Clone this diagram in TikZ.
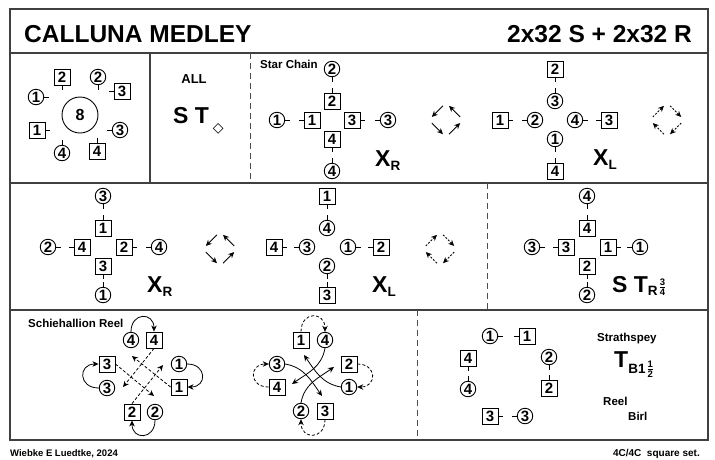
\documentclass[tikz,border=0pt]{standalone}
\usepackage{fontspec}
\setmainfont{Liberation Sans}
\newfontfamily\symbolfont{DejaVu Sans}
\usetikzlibrary{arrows.meta, calc, positioning}

\newcommand{\bigsize}{\fontsize{23}{23}\selectfont}
\newcommand{\subsize}{\fontsize{13.5}{13.5}\selectfont}
\newcommand{\fracsize}{\fontsize{9.5}{9.5}\selectfont}
\newcommand{\lowered}[2][-4.5pt]{\raisebox{#1}{\subsize #2}}
\newcommand{\smallfrac}[2]{\kern1pt$\frac{\mbox{\fracsize #1}}{\mbox{\fracsize #2}}$}

% dancer: style, name, position, number, side of the facing tick
\newcommand{\dancer}[5]{%
  \node[#1] (#2) at (#3) {#4};
  \draw[facing] (#2.#5) -- ($(#2.#5)!-5pt!(#2.center)$);}

% hands across: four short arrows round a centre
\newcommand{\handsright}[1]{%
  \foreach \a in {45,135,225,315}
    \draw[spin] ($(#1)+(\a-33:14.5)$) -- ($(#1)+(\a+33:14.5)$);}
\newcommand{\handsleft}[1]{%
  \foreach \a in {45,135,225,315}
    \draw[spin, spindash] ($(#1)+(\a+33:14.5)$) -- ($(#1)+(\a-33:14.5)$);}

\begin{document}
\begin{tikzpicture}[x=1pt, y=1pt,
        % --- Style Definitions ---
        frame/.style={draw=black!75, line width=1.2pt},
        divider/.style={draw=black!70, line width=0.9pt, dash pattern=on 6pt off 4pt},
        man/.style={rectangle, draw, line width=0.9pt, minimum size=16pt, inner sep=0pt, font=\bfseries\fontsize{15}{15}\selectfont},
        lady/.style={circle, draw, line width=0.9pt, minimum size=15.5pt, inner sep=0pt, font=\bfseries\fontsize{15}{15}\selectfont},
        facing/.style={line width=0.9pt},
        heading/.style={font=\bfseries\fontsize{24.5}{24.5}\selectfont, inner sep=0pt},
        note/.style={font=\bfseries\fontsize{11.5}{11.5}\selectfont, inner sep=0pt},
        figname/.style={font=\bfseries\bigsize, inner sep=0pt},
        spin/.style={line width=0.9pt, -{Stealth[length=6pt, width=5.5pt]}},
        spindash/.style={dash pattern=on 2pt off 1.5pt},
        arrow/.style={line width=0.8pt, -{Stealth[length=6pt, width=5.5pt]}},
        dasharrow/.style={arrow, dash pattern=on 3pt off 2pt}
    ]

        % --- Frame ---
        \useasboundingbox (0,0) rectangle (715,-459);
        \draw[frame] (10,-9) rectangle (708,-440);
        \draw[frame] (10,-53) -- (708,-53);
        \draw[frame] (10,-183) -- (708,-183);
        \draw[frame] (10,-310) -- (708,-310);
        \draw[frame] (150,-53) -- (150,-183);
        \draw[divider] (250,-53) -- (250,-183);
        \draw[divider] (487,-183) -- (487,-310);
        \draw[divider] (417,-310) -- (417,-440);

        % --- Title and footer ---
        \node[heading, anchor=base west] (name) at (24,-42) {CALLUNA MEDLEY};
        \node[heading, anchor=base east] (tempo) at (692,-42) {2x32 S + 2x32 R};
        \node[note, anchor=base west, font=\bfseries\fontsize{9.5}{9.5}\selectfont] (author) at (10,-456) {Wiebke E Luedtke, 2024};
        \node[note, anchor=base east, font=\bfseries\fontsize{10}{10}\selectfont] (setform) at (700,-456) {4C/4C\ \ square set.};

        % --- Bar 1: set, all turn ---
        \node[lady, minimum size=36pt, font=\bfseries\fontsize{16}{16}\selectfont] (eight) at (80,-115) {8};
        \dancer{man}{set_m2}{62,-77}{2}{south}
        \dancer{lady}{set_w2}{98,-77}{2}{south}
        \dancer{lady}{set_w1}{36,-97}{1}{east}
        \dancer{man}{set_m3}{122,-91}{3}{west}
        \dancer{man}{set_m1}{37,-130}{1}{east}
        \dancer{lady}{set_w3}{120,-130}{3}{west}
        \dancer{lady}{set_w4}{62,-153}{4}{north}
        \dancer{man}{set_m4}{97,-151}{4}{north}

        \node[note, anchor=base, font=\bfseries\fontsize{13}{13}\selectfont] (all) at (194,-83) {ALL};
        \node[figname, anchor=base west] (st_all) at (173,-123) {S T\hspace{4pt}\raisebox{-9pt}{\symbolfont\mdseries\fontsize{14}{14}\selectfont ◇}};

        % --- Star chain: right hands across ---
        \node[note, anchor=base west] (chain) at (260,-68) {Star Chain};
        \dancer{lady}{chain_w2}{332,-69}{2}{south}
        \dancer{man}{chain_m2}{332,-101}{2}{north}
        \dancer{lady}{chain_w1}{277,-120}{1}{east}
        \dancer{man}{chain_m1}{312,-120}{1}{west}
        \dancer{man}{chain_m3}{352,-120}{3}{east}
        \dancer{lady}{chain_w3}{388,-120}{3}{west}
        \dancer{man}{chain_m4}{332,-139}{4}{south}
        \dancer{lady}{chain_w4}{332,-171}{4}{north}
        \node[figname, anchor=base west] (xr_a) at (375,-166) {X\lowered{R}};
        \coordinate (rot_a) at (446,-120);
        \handsright{rot_a}

        % --- Left hands across ---
        \dancer{man}{xl_m2}{555,-69}{2}{south}
        \dancer{lady}{xl_w3}{555,-101}{3}{north}
        \dancer{man}{xl_m1}{500,-120}{1}{east}
        \dancer{lady}{xl_w2}{535,-120}{2}{west}
        \dancer{lady}{xl_w4}{575,-120}{4}{east}
        \dancer{man}{xl_m3}{609,-120}{3}{west}
        \dancer{lady}{xl_w1}{555,-139}{1}{south}
        \dancer{man}{xl_m4}{555,-171}{4}{north}
        \node[figname, anchor=base west] (xl_a) at (593,-165) {X\lowered{L}};
        \coordinate (rot_b) at (667,-120);
        \handsleft{rot_b}

        % --- Row 2 ---
        \dancer{lady}{xr2_w3}{103,-196}{3}{south}
        \dancer{man}{xr2_m1}{103,-228}{1}{north}
        \dancer{lady}{xr2_w2}{48,-247}{2}{east}
        \dancer{man}{xr2_m4}{82,-247}{4}{west}
        \dancer{man}{xr2_m2}{124,-247}{2}{east}
        \dancer{lady}{xr2_w4}{159,-247}{4}{west}
        \dancer{man}{xr2_m3}{103,-266}{3}{south}
        \dancer{lady}{xr2_w1}{103,-295}{1}{north}
        \node[figname, anchor=base west] (xr_b) at (147,-292) {X\lowered{R}};
        \coordinate (rot_c) at (220,-249);
        \handsright{rot_c}

        \dancer{man}{xl2_m1}{327,-196}{1}{south}
        \dancer{lady}{xl2_w4}{327,-228}{4}{north}
        \dancer{man}{xl2_m4}{274,-247}{4}{east}
        \dancer{lady}{xl2_w3}{307,-247}{3}{west}
        \dancer{lady}{xl2_w1}{348,-247}{1}{east}
        \dancer{man}{xl2_m2}{381,-247}{2}{west}
        \dancer{lady}{xl2_w2}{327,-266}{2}{south}
        \dancer{man}{xl2_m3}{327,-295}{3}{north}
        \node[figname, anchor=base west] (xl_b) at (372,-292) {X\lowered{L}};
        \coordinate (rot_d) at (440,-249);
        \handsleft{rot_d}

        \dancer{lady}{st_w4}{587,-196}{4}{south}
        \dancer{man}{st_m4}{587,-228}{4}{north}
        \dancer{lady}{st_w3}{532,-247}{3}{east}
        \dancer{man}{st_m3}{566,-247}{3}{west}
        \dancer{man}{st_m1}{608,-247}{1}{east}
        \dancer{lady}{st_w1}{640,-247}{1}{west}
        \dancer{man}{st_m2}{587,-266}{2}{south}
        \dancer{lady}{st_w2}{587,-295}{2}{north}
        \node[figname, anchor=base west] (st_r) at (612,-292) {S T\lowered[-3pt]{R\raisebox{4pt}{\smallfrac{3}{4}}}};

        % --- Schiehallion reel ---
        \node[note, anchor=base west] (reel_name) at (28,-327) {Schiehallion Reel};
        \node[lady] (sch_w4) at (131,-340) {4};
        \node[man]  (sch_m4) at (154,-340) {4};
        \node[man]  (sch_m3) at (107,-364) {3};
        \node[lady] (sch_w3) at (107,-388) {3};
        \node[man]  (sch_m2) at (132,-412) {2};
        \node[lady] (sch_w2) at (155,-412) {2};
        \node[lady] (sch_w1) at (179,-364) {1};
        \node[man]  (sch_m1) at (179,-387) {1};

        \draw[arrow] (sch_w4.north) to[out=90, in=90, looseness=2.2] (sch_m4.north);
        \draw[arrow] (sch_w1.east) to[out=0, in=0, looseness=2.2] (sch_m1.east);
        \draw[arrow] (sch_w2.south) to[out=-90, in=-90, looseness=2.2] (sch_m2.south);
        \draw[arrow] (sch_w3.west) to[out=180, in=180, looseness=2.2] (sch_m3.west);
        \draw[dasharrow] (sch_m4.south) -- ($(sch_w3.center)+(16,1)$);
        \draw[dasharrow] (sch_m3.east) -- ($(sch_w2.center)+(-1,16)$);
        \draw[dasharrow] (sch_m2.north) -- ($(sch_w1.center)+(-16,-1)$);
        \draw[dasharrow] (sch_m1.west) -- ($(sch_w4.center)+(1,-16)$);

        % --- Reel with crossing ---
        \node[man]  (rl_m1) at (301,-340) {1};
        \node[lady] (rl_w4) at (325,-340) {4};
        \node[lady] (rl_w3) at (277,-364) {3};
        \node[man]  (rl_m4) at (277,-387) {4};
        \node[lady] (rl_w2) at (301,-411) {2};
        \node[man]  (rl_m3) at (325,-411) {3};
        \node[man]  (rl_m2) at (349,-364) {2};
        \node[lady] (rl_w1) at (349,-387) {1};

        \draw[dasharrow] (rl_m1.north) to[out=90, in=90, looseness=2.2] (rl_w4.north);
        \draw[dasharrow] (rl_m4.west) to[out=180, in=180, looseness=2.2] (rl_w3.west);
        \draw[dasharrow] (rl_m3.south) to[out=-90, in=-90, looseness=2.2] (rl_w2.south);
        \draw[dasharrow] (rl_m2.east) to[out=0, in=0, looseness=2.2] (rl_w1.east);
        \draw[arrow] (rl_w4.south) to[out=-100, in=35] ($(rl_m4.center)+(15,3)$);
        \draw[arrow] (rl_w3.east) to[out=-10, in=125] ($(rl_m3.center)+(-3,15)$);
        \draw[arrow] (rl_w2.north) to[out=80, in=215] ($(rl_m2.center)+(-15,-3)$);
        \draw[arrow] (rl_w1.west) to[out=170, in=305] ($(rl_m1.center)+(3,-15)$);

        % --- Ending: turn and birl ---
        \dancer{lady}{end_w1}{490,-336}{1}{east}
        \dancer{man}{end_m1}{527,-336}{1}{west}
        \dancer{man}{end_m4}{468,-358}{4}{south}
        \dancer{lady}{end_w4}{468,-389}{4}{north}
        \dancer{lady}{end_w2}{549,-357}{2}{south}
        \dancer{man}{end_m2}{549,-388}{2}{north}
        \dancer{man}{end_m3}{490,-416}{3}{east}
        \dancer{lady}{end_w3}{525,-416}{3}{west}

        \node[note, anchor=base west] (strathspey) at (597,-341) {Strathspey};
        \node[figname, anchor=base west] (t_b) at (614,-367) {T\lowered[-6pt]{B1\smallfrac{1}{2}}};
        \node[note, anchor=base west] (reel) at (603,-405) {Reel};
        \node[note, anchor=base west] (birl) at (628,-420) {Birl};

    \end{tikzpicture}
\end{document}
